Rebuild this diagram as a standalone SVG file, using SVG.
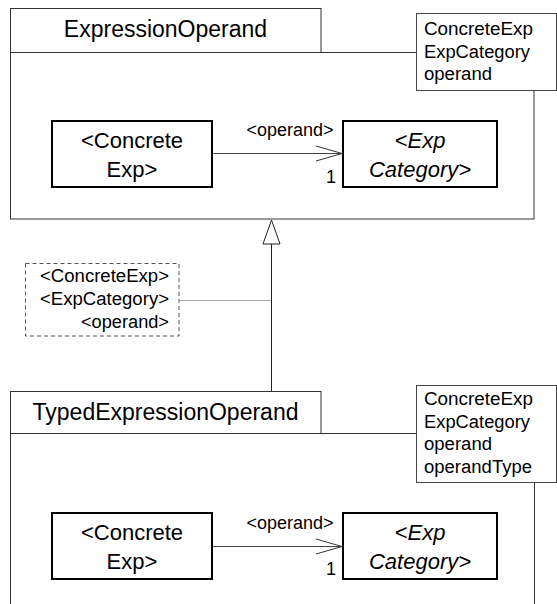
<svg xmlns="http://www.w3.org/2000/svg" width="557" height="604" viewBox="0 0 557 604">
<defs>
<style>
.pkg{fill:#fff;stroke:#333;stroke-width:1}
.tpl{fill:#fff;stroke:#444;stroke-width:1}
.box{fill:#fff;stroke:#000;stroke-width:2}
.t{font-family:"Liberation Sans",Arial,Helvetica,sans-serif;fill:#000}
.title{font-size:23px;text-anchor:middle}
.lbl{font-size:22px;text-anchor:middle}
.it{font-style:italic}
.sm{font-size:18px}
.mid{text-anchor:middle}
.end{text-anchor:end}
.conn{fill:none;stroke:#444;stroke-width:1}
</style>
<marker id="open" markerUnits="userSpaceOnUse" markerWidth="30" markerHeight="20" viewBox="0 0 30 20" refX="27" refY="10" orient="auto">
<path d="M1,2.5 L27,10 L1,17.5" fill="none" stroke="#333" stroke-width="1"/>
</marker>
</defs>
<rect width="557" height="604" fill="#fff"/>

<g id="expressionOperand">
<rect class="pkg" x="10.5" y="52.5" width="523.5" height="166.5"/>
<rect class="pkg" x="10.5" y="8.5" width="310.5" height="44"/>
<text class="t title" x="165.5" y="37">ExpressionOperand</text>
<rect class="tpl" x="416.5" y="13.5" width="140" height="77"/>
<text class="t sm" x="424" y="35" textLength="109" lengthAdjust="spacingAndGlyphs">ConcreteExp</text>
<text class="t sm" x="424" y="57.5" textLength="106" lengthAdjust="spacingAndGlyphs">ExpCategory</text>
<text class="t sm" x="424" y="80" textLength="68" lengthAdjust="spacingAndGlyphs">operand</text>
</g>

<g id="typedExpressionOperand">
<path class="pkg" d="M10.5,610 V433.5 H534.5 V610"/>
<rect class="pkg" x="10.5" y="391.5" width="310.5" height="42"/>
<text class="t title" x="165.5" y="420">TypedExpressionOperand</text>
<rect class="tpl" x="416.5" y="385.5" width="140" height="97"/>
<text class="t sm" x="424" y="405" textLength="109" lengthAdjust="spacingAndGlyphs">ConcreteExp</text>
<text class="t sm" x="424" y="427.5" textLength="106" lengthAdjust="spacingAndGlyphs">ExpCategory</text>
<text class="t sm" x="424" y="450" textLength="68" lengthAdjust="spacingAndGlyphs">operand</text>
<text class="t sm" x="424" y="472.5" textLength="108" lengthAdjust="spacingAndGlyphs">operandType</text>
</g>

<g id="binding">
<rect x="25.5" y="263.5" width="153.5" height="72.5" fill="#fff" stroke="#555" stroke-width="1" stroke-dasharray="4,3"/>
<text class="t sm end" x="169" y="282" textLength="129" lengthAdjust="spacingAndGlyphs">&lt;ConcreteExp&gt;</text>
<text class="t sm end" x="169" y="305" textLength="129" lengthAdjust="spacingAndGlyphs">&lt;ExpCategory&gt;</text>
<text class="t sm end" x="169" y="328" textLength="88" lengthAdjust="spacingAndGlyphs">&lt;operand&gt;</text>
</g>

<g id="concreteExp1">
<rect class="box" x="52" y="121" width="160" height="66"/>
<text class="t lbl" x="132" y="148">&lt;Concrete</text>
<text class="t lbl" x="132" y="177">Exp&gt;</text>
</g>
<g id="expCategory1">
<rect class="box" x="343" y="121" width="154" height="66"/>
<text class="t lbl it" x="420" y="148">&lt;Exp</text>
<text class="t lbl it" x="420" y="177">Category&gt;</text>
</g>
<g id="concreteExp2">
<rect class="box" x="52" y="513" width="160" height="66"/>
<text class="t lbl" x="132" y="540">&lt;Concrete</text>
<text class="t lbl" x="132" y="569">Exp&gt;</text>
</g>
<g id="expCategory2">
<rect class="box" x="343" y="513" width="154" height="66"/>
<text class="t lbl it" x="420" y="540">&lt;Exp</text>
<text class="t lbl it" x="420" y="569">Category&gt;</text>
</g>

<g id="connectors">
<line class="conn" x1="213" y1="153.5" x2="342" y2="153.5" marker-end="url(#open)"/>
<text class="t sm mid" x="290" y="136" textLength="87" lengthAdjust="spacingAndGlyphs">&lt;operand&gt;</text>
<text class="t sm mid" x="331" y="183">1</text>
<line class="conn" x1="213" y1="546.5" x2="342" y2="546.5" marker-end="url(#open)"/>
<text class="t sm mid" x="290" y="528.5" textLength="87" lengthAdjust="spacingAndGlyphs">&lt;operand&gt;</text>
<text class="t sm mid" x="331" y="575">1</text>
<line x1="271.5" y1="391" x2="271.5" y2="244" stroke="#222" stroke-width="1"/>
<polygon points="271.5,220 263,244 280,244" fill="#fff" stroke="#222" stroke-width="1"/>
<line x1="179.5" y1="300.5" x2="271.5" y2="300.5" stroke="#555" stroke-width="1" stroke-dasharray="1,1"/>
</g>
</svg>
